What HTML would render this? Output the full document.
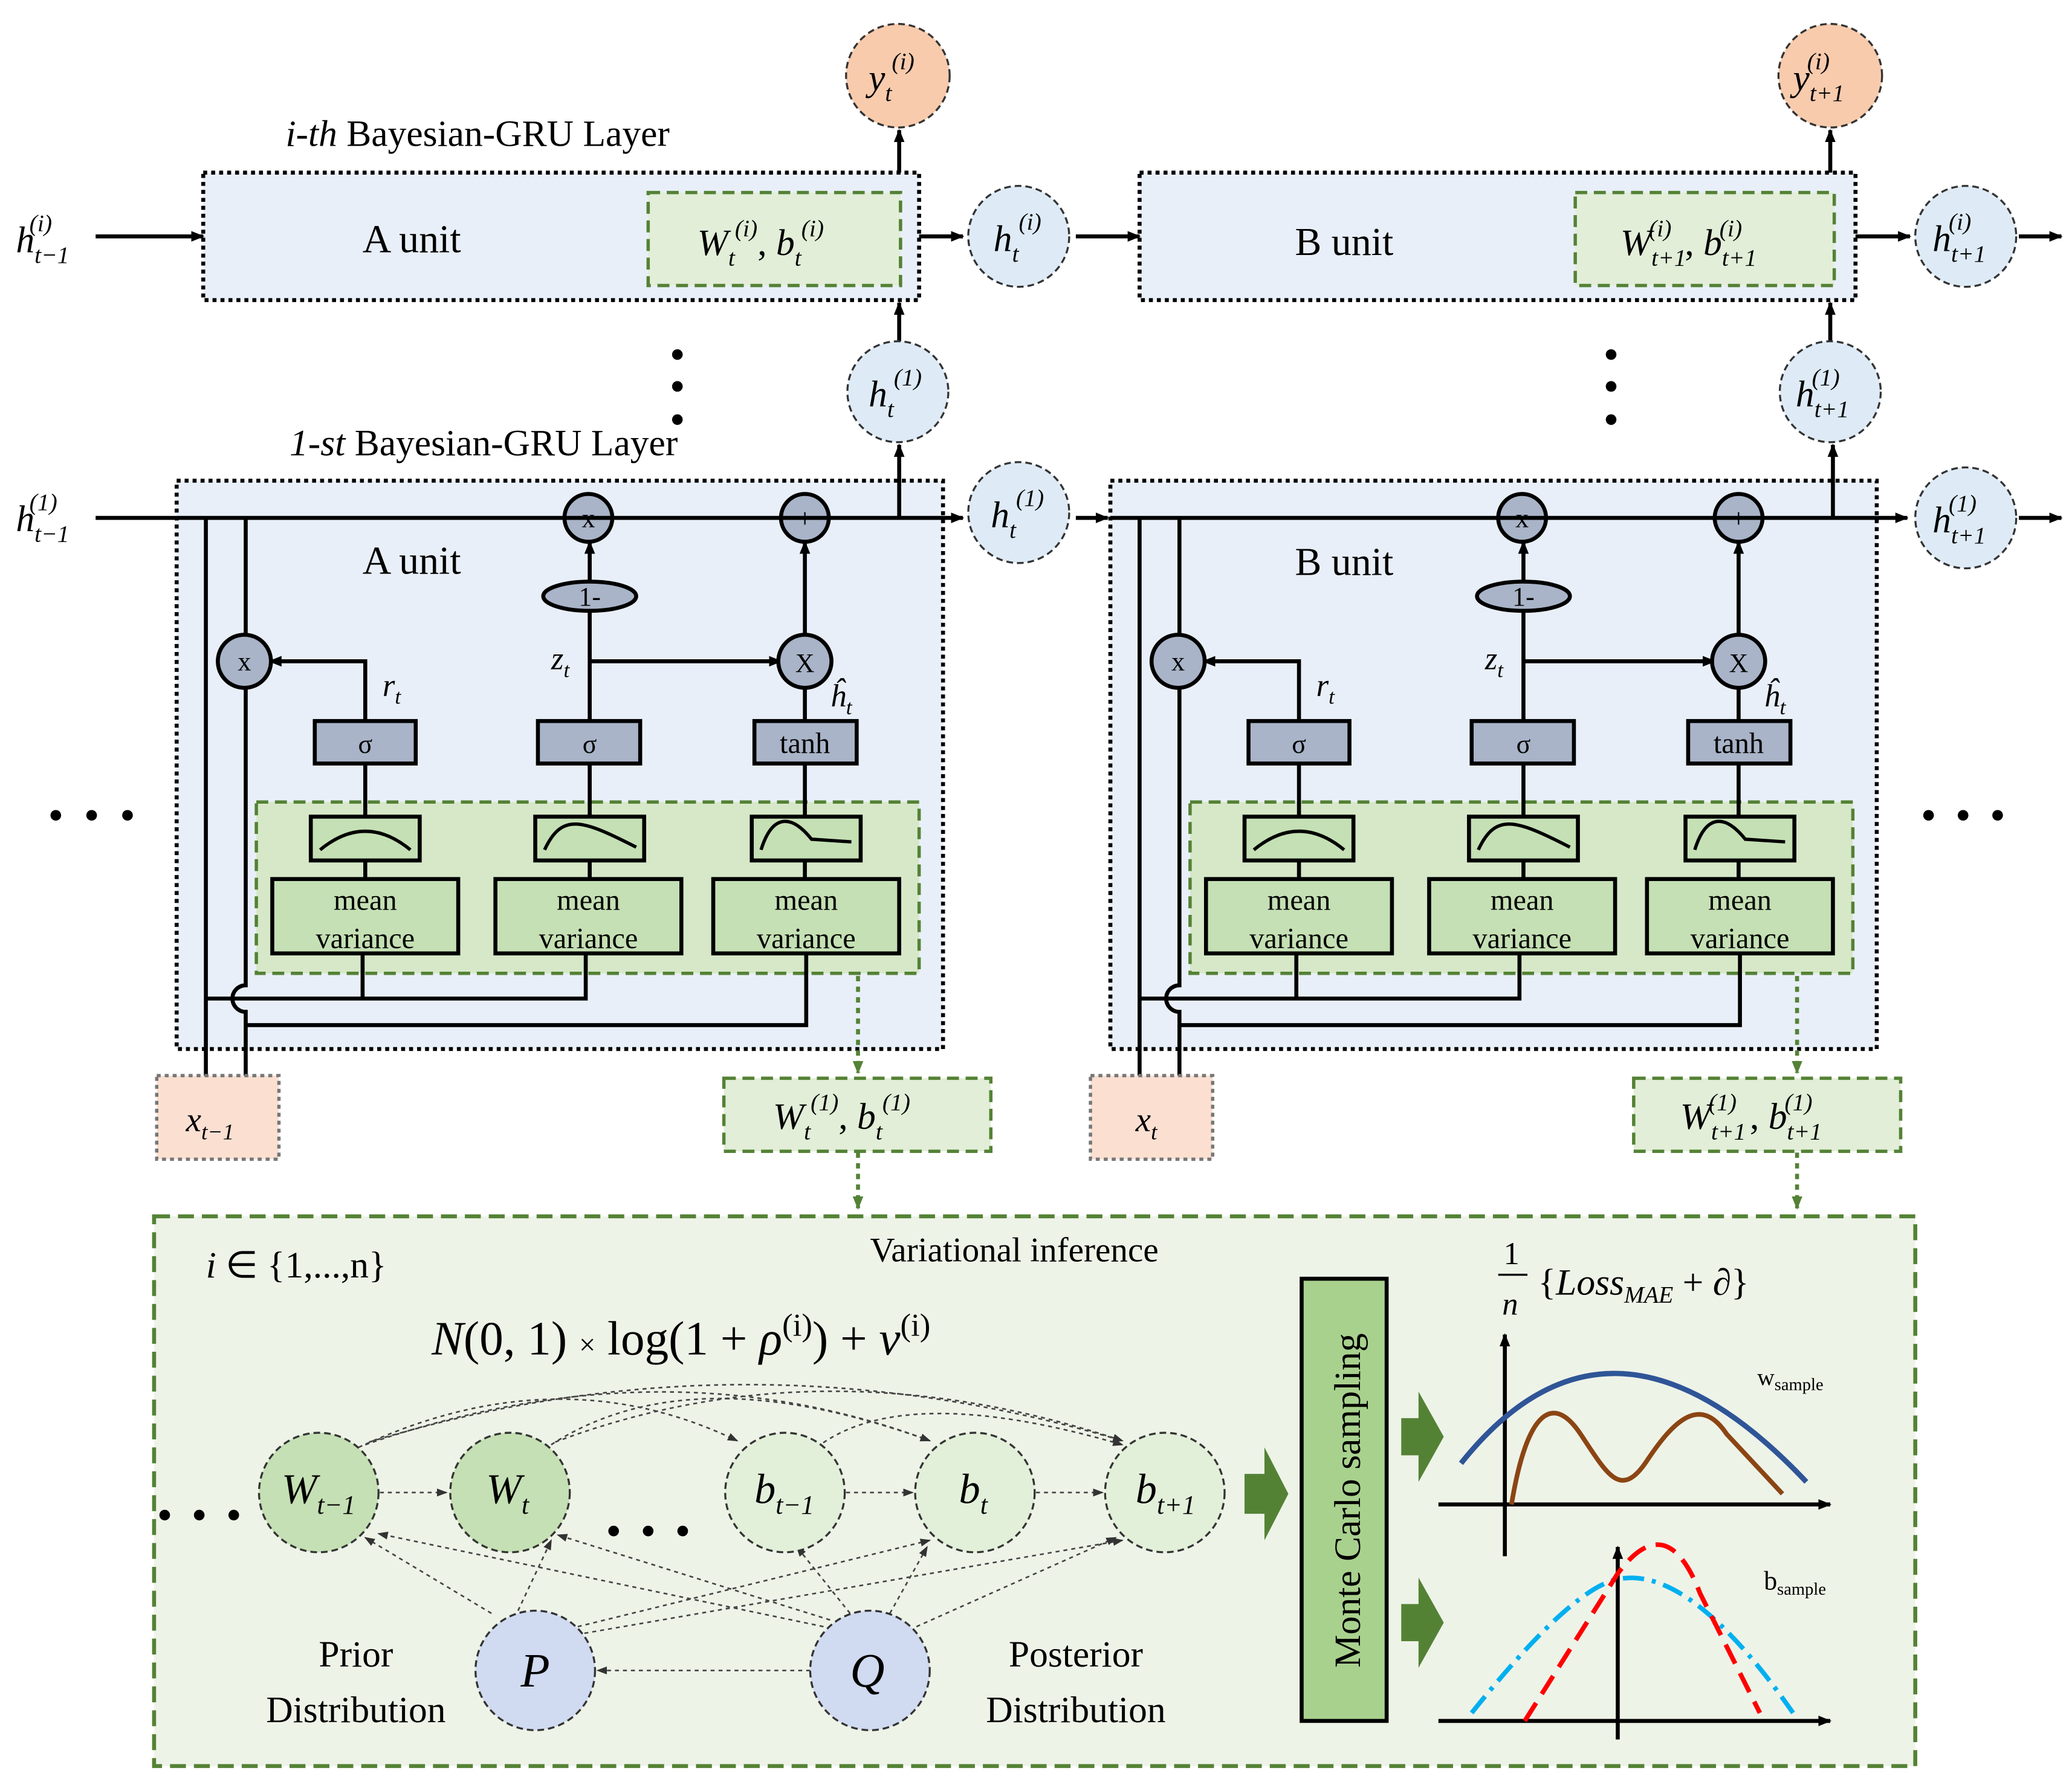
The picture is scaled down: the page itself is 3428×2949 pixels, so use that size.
<!DOCTYPE html>
<html><head><meta charset="utf-8"><style>html,body{margin:0;padding:0;background:#fff}svg{display:block}text{font-family:"Liberation Serif",serif;fill:#000}</style></head>
<body>
<svg width="3428" height="2949" viewBox="0 0 1560 1342" xmlns="http://www.w3.org/2000/svg">
<defs>
<marker id="a" markerWidth="10" markerHeight="10" refX="9" refY="5" orient="auto" markerUnits="userSpaceOnUse"><path d="M0,1 L10,5 L0,9 z" fill="#000"/></marker>
<marker id="g" markerWidth="10" markerHeight="10" refX="9" refY="5" orient="auto" markerUnits="userSpaceOnUse"><path d="M0,1 L10,5 L0,9 z" fill="#548235"/></marker>
<marker id="s" markerWidth="8" markerHeight="8" refX="7" refY="4" orient="auto" markerUnits="userSpaceOnUse"><path d="M0,1 L8,4 L0,7 z" fill="#333"/></marker>
<g id="unit">
 <rect x="0" y="0" width="577" height="428" fill="#e9eff8" stroke="#000" stroke-width="3" stroke-dasharray="3,3"/>
 <rect x="60" y="242" width="499" height="129" fill="#d6e8c8" stroke="#548235" stroke-width="2.5" stroke-dasharray="9,5"/>
 <g stroke="#000" stroke-width="3" fill="none">
  <path d="M22,28 V448 M52,28 V380 A10,10 0 0 0 52,400 V448"/>
  <path d="M142,181 V136 H70" marker-end="url(#a)"/>
  <path d="M311,181 V98 M311,76 V46" marker-end="url(#a)"/>
  <path d="M311,136 H455" marker-end="url(#a)"/>
  <path d="M473,181 V156 M473,118 V46" marker-end="url(#a)"/>
  <path d="M142,213 V253 M311,213 V253 M473,213 V253 M142,286 V300 M311,286 V300 M473,286 V300"/>
  <path d="M140,356 V390 H22 M308,356 V390 H22 M474,356 V410 H52"/>
 </g>
 <g fill="#a9b4c8" stroke="#000" stroke-width="3">
  <circle cx="310" cy="28" r="18"/><circle cx="473" cy="28" r="18"/>
  <ellipse cx="311" cy="87" rx="35" ry="11"/>
  <circle cx="51" cy="136" r="20"/><circle cx="473" cy="136" r="20"/>
  <rect x="104" y="181" width="76" height="32"/><rect x="272" y="181" width="77" height="32"/><rect x="435" y="181" width="77" height="32"/>
 </g>
 <g font-size="20" text-anchor="middle"><text x="310" y="35">x</text><text x="473" y="35">+</text><text x="311" y="94">1-</text><text x="51" y="143">x</text><text x="473" y="144">X</text>
 <text x="142" y="205">σ</text><text x="311" y="205">σ</text><text x="473" y="205" font-size="22">tanh</text></g>
 <g font-size="24" font-style="italic"><text x="155" y="162">r<tspan font-size="16" dy="6">t</tspan></text><text x="282" y="142">z<tspan font-size="16" dy="6">t</tspan></text><text x="492" y="170">ĥ<tspan font-size="16" dy="6">t</tspan></text></g>
 <g fill="#c5e0b4" stroke="#000" stroke-width="3">
  <rect x="101" y="253" width="82" height="33"/><rect x="270" y="253" width="82" height="33"/><rect x="433" y="253" width="82" height="33"/>
  <rect x="72" y="300" width="140" height="56"/><rect x="240" y="300" width="140" height="56"/><rect x="404" y="300" width="140" height="56"/>
 </g>
 <g stroke="#000" stroke-width="2.5" fill="none"><path d="M108,278 Q142,250 176,278"/><path d="M277,278 C290,250 305,255 346,276"/><path d="M440,278 C448,252 462,250 478,270 L508,272"/></g>
 <g font-size="22" text-anchor="middle"><text x="142" y="323">mean</text><text x="142" y="352">variance</text><text x="310" y="323">mean</text><text x="310" y="352">variance</text><text x="474" y="323">mean</text><text x="474" y="352">variance</text></g>
</g>
</defs>

<text x="215" y="110" font-size="28"><tspan font-style="italic">i-th</tspan> Bayesian-GRU Layer</text>
<rect x="153" y="130" width="539" height="96" fill="#e9eff8" stroke="#000" stroke-width="3" stroke-dasharray="3,3"/>
<rect x="488" y="145" width="190" height="70" fill="#e2eed8" stroke="#548235" stroke-width="2.5" stroke-dasharray="9,5"/>
<rect x="858" y="130" width="539" height="96" fill="#e9eff8" stroke="#000" stroke-width="3" stroke-dasharray="3,3"/>
<rect x="1186" y="145" width="195" height="70" fill="#e2eed8" stroke="#548235" stroke-width="2.5" stroke-dasharray="9,5"/>
<text x="310" y="190" font-size="30" text-anchor="middle">A unit</text>
<text x="1012" y="192" font-size="30" text-anchor="middle">B unit</text>
<text x="525" y="192" font-size="28" font-style="italic">W<tspan font-size="18" dy="8">t</tspan><tspan font-size="18" dy="-22">(i)</tspan><tspan dy="14" font-style="normal">, </tspan>b<tspan font-size="18" dy="8">t</tspan><tspan font-size="18" dy="-22">(i)</tspan></text>
<text x="1220" y="192" font-size="28" font-style="italic">W<tspan font-size="18" dy="8">t+1</tspan><tspan font-size="18" dy="-22" dx="-28">(i)</tspan><tspan dy="14" dx="10" font-style="normal">, </tspan>b<tspan font-size="18" dy="8">t+1</tspan><tspan font-size="18" dy="-22" dx="-28">(i)</tspan></text>

<g stroke="#000" stroke-width="3" fill="none">
 <path d="M72,178 H153" marker-end="url(#a)"/>
 <path d="M692,178 H725" marker-end="url(#a)"/>
 <path d="M810,178 H858" marker-end="url(#a)"/>
 <path d="M1397,178 H1438" marker-end="url(#a)"/>
 <path d="M1520,178 H1552" marker-end="url(#a)"/>
 <path d="M677,130 V98" marker-end="url(#a)"/>
 <path d="M1378,130 V98" marker-end="url(#a)"/>
 <path d="M677,257 V228" marker-end="url(#a)"/>
 <path d="M1378,257 V228" marker-end="url(#a)"/>
</g>
<g fill="#000"><circle cx="510" cy="267" r="4"/><circle cx="510" cy="291" r="4"/><circle cx="510" cy="316" r="4"/><circle cx="1213" cy="267" r="4"/><circle cx="1213" cy="291" r="4"/><circle cx="1213" cy="316" r="4"/></g>

<g stroke="#333" stroke-width="1.5" stroke-dasharray="5,3">
 <circle cx="676" cy="57" r="39" fill="#f8cbad"/><circle cx="1378" cy="57" r="39" fill="#f8cbad"/>
 <circle cx="767" cy="178" r="38" fill="#deebf7"/><circle cx="1480" cy="178" r="38" fill="#deebf7"/>
 <circle cx="676" cy="295" r="38" fill="#deebf7"/><circle cx="1378" cy="295" r="38" fill="#deebf7"/>
 <circle cx="767" cy="386" r="38" fill="#deebf7"/><circle cx="1480" cy="390" r="38" fill="#deebf7"/>
</g>
<g font-size="28" font-style="italic">
 <text x="654" y="68">y<tspan font-size="18" dy="8">t</tspan><tspan font-size="18" dy="-24">(i)</tspan></text>
 <text x="1350" y="68">y<tspan font-size="18" dy="8">t+1</tspan><tspan font-size="18" dy="-24" dx="-28">(i)</tspan></text>
 <text x="748" y="189">h<tspan font-size="18" dy="8">t</tspan><tspan font-size="18" dy="-24">(i)</tspan></text>
 <text x="1455" y="189">h<tspan font-size="18" dy="8">t+1</tspan><tspan font-size="18" dy="-24" dx="-28">(i)</tspan></text>
 <text x="654" y="306">h<tspan font-size="18" dy="8">t</tspan><tspan font-size="18" dy="-24">(1)</tspan></text>
 <text x="1352" y="306">h<tspan font-size="18" dy="8">t+1</tspan><tspan font-size="18" dy="-24" dx="-28">(1)</tspan></text>
 <text x="746" y="397">h<tspan font-size="18" dy="8">t</tspan><tspan font-size="18" dy="-24">(1)</tspan></text>
 <text x="1455" y="401">h<tspan font-size="18" dy="8">t+1</tspan><tspan font-size="18" dy="-24" dx="-28">(1)</tspan></text>
 <text x="12" y="190">h<tspan font-size="18" dy="8">t−1</tspan><tspan font-size="18" dy="-24" dx="-30">(i)</tspan></text>
 <text x="12" y="400">h<tspan font-size="18" dy="8">t−1</tspan><tspan font-size="18" dy="-24" dx="-30">(1)</tspan></text>
</g>

<text x="218" y="343" font-size="28"><tspan font-style="italic">1-st</tspan> Bayesian-GRU Layer</text>
<use href="#unit" x="133" y="362"/>
<use href="#unit" x="836" y="362"/>
<text x="310" y="432" font-size="30" text-anchor="middle">A unit</text>
<text x="1012" y="433" font-size="30" text-anchor="middle">B unit</text>
<g stroke="#000" stroke-width="3" fill="none">
 <path d="M72,390 H725" marker-end="url(#a)"/>
 <path d="M810,390 H834" marker-end="url(#a)"/>
 <path d="M836,390 H1436" marker-end="url(#a)"/>
 <path d="M1520,390 H1552" marker-end="url(#a)"/>
 <path d="M677,390 V335" marker-end="url(#a)"/>
 <path d="M1380,390 V335" marker-end="url(#a)"/>
</g>
<g fill="#000"><circle cx="42" cy="614" r="4"/><circle cx="69" cy="614" r="4"/><circle cx="96" cy="614" r="4"/><circle cx="1452" cy="614" r="4"/><circle cx="1478" cy="614" r="4"/><circle cx="1504" cy="614" r="4"/></g>

<rect x="118" y="810" width="92" height="63" fill="#fbe0d2" stroke="#777" stroke-width="2.5" stroke-dasharray="3,3"/>
<rect x="821" y="810" width="92" height="63" fill="#fbe0d2" stroke="#777" stroke-width="2.5" stroke-dasharray="3,3"/>
<text x="140" y="852" font-size="26" font-style="italic">x<tspan font-size="17" dy="6">t−1</tspan></text>
<text x="855" y="852" font-size="26" font-style="italic">x<tspan font-size="17" dy="6">t</tspan></text>

<rect x="545" y="812" width="201" height="55" fill="#e2eed8" stroke="#548235" stroke-width="2.5" stroke-dasharray="9,5"/>
<rect x="1230" y="812" width="201" height="55" fill="#e2eed8" stroke="#548235" stroke-width="2.5" stroke-dasharray="9,5"/>
<text x="582" y="850" font-size="28" font-style="italic">W<tspan font-size="18" dy="8">t</tspan><tspan font-size="18" dy="-22">(1)</tspan><tspan dy="14" font-style="normal">, </tspan>b<tspan font-size="18" dy="8">t</tspan><tspan font-size="18" dy="-22">(1)</tspan></text>
<text x="1265" y="850" font-size="28" font-style="italic">W<tspan font-size="18" dy="8">t+1</tspan><tspan font-size="18" dy="-22" dx="-28">(1)</tspan><tspan dy="14" dx="10" font-style="normal">, </tspan>b<tspan font-size="18" dy="8">t+1</tspan><tspan font-size="18" dy="-22" dx="-28">(1)</tspan></text>
<g stroke="#548235" stroke-width="3" stroke-dasharray="4,4" fill="none">
 <path d="M646,735 V808" marker-end="url(#g)"/><path d="M646,868 V910" marker-end="url(#g)"/>
 <path d="M1353,735 V808" marker-end="url(#g)"/><path d="M1353,868 V910" marker-end="url(#g)"/>
</g>

<rect x="116" y="916" width="1326" height="414" fill="#eef3e8" stroke="#548235" stroke-width="3" stroke-dasharray="12,6"/>
<text x="155" y="962" font-size="28"><tspan font-style="italic">i</tspan> ∈ {1,...,n}</text>
<text x="655" y="950" font-size="26">Variational inference</text>
<text x="325" y="1020" font-size="36"><tspan font-style="italic">N</tspan>(0, 1) <tspan font-size="22">×</tspan> log(1 + <tspan font-style="italic">ρ</tspan><tspan font-size="24" dy="-14">(i)</tspan><tspan dy="14">) + </tspan><tspan font-style="italic">ν</tspan><tspan font-size="24" dy="-14">(i)</tspan></text>

<g stroke="#444" stroke-width="1.2" stroke-dasharray="3,3" fill="none">
 <path d="M270,1090 Q420,1020 555,1085" marker-end="url(#s)"/>
 <path d="M275,1088 Q500,1010 700,1085" marker-end="url(#s)"/>
 <path d="M278,1086 Q560,1000 845,1085" marker-end="url(#s)"/>
 <path d="M415,1088 Q520,1020 700,1085" marker-end="url(#s)"/>
 <path d="M418,1086 Q620,1010 845,1085" marker-end="url(#s)"/>
 <path d="M615,1090 Q680,1040 845,1088" marker-end="url(#s)"/>
 <path d="M286,1124 H336" marker-end="url(#s)"/>
 <path d="M637,1124 H687" marker-end="url(#s)"/>
 <path d="M780,1124 H830" marker-end="url(#s)"/>
 <path d="M370,1215 L275,1158" marker-end="url(#s)"/>
 <path d="M390,1213 L415,1160" marker-end="url(#s)"/>
 <path d="M435,1225 L700,1160" marker-end="url(#s)"/>
 <path d="M440,1230 L845,1160" marker-end="url(#s)"/>
 <path d="M620,1225 L285,1155" marker-end="url(#s)"/>
 <path d="M625,1220 L420,1156" marker-end="url(#s)"/>
 <path d="M640,1215 L600,1165" marker-end="url(#s)"/>
 <path d="M670,1215 L698,1165" marker-end="url(#s)"/>
 <path d="M690,1225 L840,1158" marker-end="url(#s)"/>
 <path d="M610,1258 H450" marker-end="url(#s)"/>
</g>
<g stroke="#333" stroke-width="1.5" stroke-dasharray="5,3">
 <circle cx="240" cy="1124" r="45" fill="#c5e0b4"/><circle cx="384" cy="1124" r="45" fill="#c5e0b4"/>
 <circle cx="591" cy="1124" r="45" fill="#e2efd9"/><circle cx="734" cy="1124" r="45" fill="#e2efd9"/><circle cx="877" cy="1124" r="45" fill="#e2efd9"/>
 <circle cx="403" cy="1258" r="45" fill="#d0daf0"/><circle cx="655" cy="1258" r="45" fill="#d0daf0"/>
</g>
<g font-size="32" font-style="italic">
 <text x="212" y="1132">W<tspan font-size="20" dy="8">t−1</tspan></text>
 <text x="366" y="1132">W<tspan font-size="20" dy="8">t</tspan></text>
 <text x="568" y="1132">b<tspan font-size="20" dy="8">t−1</tspan></text>
 <text x="722" y="1132">b<tspan font-size="20" dy="8">t</tspan></text>
 <text x="855" y="1132">b<tspan font-size="20" dy="8">t+1</tspan></text>
 <text x="392" y="1270" font-size="36">P</text><text x="640" y="1270" font-size="36">Q</text>
</g>
<g fill="#000"><circle cx="124" cy="1141" r="4"/><circle cx="150" cy="1141" r="4"/><circle cx="176" cy="1141" r="4"/><circle cx="462" cy="1153" r="4"/><circle cx="488" cy="1153" r="4"/><circle cx="514" cy="1153" r="4"/></g>
<g font-size="28" text-anchor="middle"><text x="268" y="1255">Prior</text><text x="268" y="1297">Distribution</text><text x="810" y="1255">Posterior</text><text x="810" y="1297">Distribution</text></g>

<path d="M937,1110 H952 V1090 L970,1125 L952,1160 V1140 H937 z" fill="#548235"/>
<rect x="980" y="963" width="64" height="333" fill="#a9d18e" stroke="#000" stroke-width="3"/>
<text transform="translate(1024,1130) rotate(-90)" font-size="28" text-anchor="middle">Monte Carlo sampling</text>
<path d="M1055,1068 H1068 V1048 L1087,1082 L1068,1116 V1096 H1055 z" fill="#548235"/>
<path d="M1055,1208 H1068 V1188 L1087,1222 L1068,1256 V1236 H1055 z" fill="#548235"/>

<text x="1138" y="952" font-size="24" text-anchor="middle">1</text>
<path d="M1128,960 H1150" stroke="#000" stroke-width="1.5"/>
<text x="1137" y="990" font-size="24" font-style="italic" text-anchor="middle">n</text>
<text x="1158" y="975" font-size="28">{<tspan font-style="italic">Loss</tspan><tspan font-size="18" dy="6" font-style="italic">MAE</tspan><tspan dy="-6"> + ∂}</tspan></text>
<text x="1323" y="1043" font-size="18">w<tspan font-size="13" dy="4">sample</tspan></text>
<text x="1328" y="1197" font-size="20">b<tspan font-size="13" dy="4">sample</tspan></text>

<g stroke="#000" stroke-width="3" fill="none">
 <path d="M1133,1172 V1005" marker-end="url(#a)"/>
 <path d="M1083,1133 H1378" marker-end="url(#a)"/>
 <path d="M1218,1310 V1165" marker-end="url(#a)"/>
 <path d="M1083,1296 H1378" marker-end="url(#a)"/>
</g>
<path d="M1100,1102 Q1213,960 1360,1116" stroke="#2f5597" stroke-width="4" fill="none"/>
<path d="M1138,1133 C1150,1060 1170,1050 1190,1080 S1220,1130 1240,1100 S1280,1050 1300,1080 L1342,1125" stroke="#8b4513" stroke-width="3.5" fill="none"/>
<path d="M1108,1290 Q1180,1200 1215,1190 Q1270,1175 1350,1290" stroke="#00b0f0" stroke-width="3.5" stroke-dasharray="16,6,3,6" fill="none"/>
<path d="M1148,1296 L1218,1185 Q1255,1135 1280,1200 L1325,1290" stroke="#ff0000" stroke-width="3.5" stroke-dasharray="16,8" fill="none"/>
</svg>
</body></html>
